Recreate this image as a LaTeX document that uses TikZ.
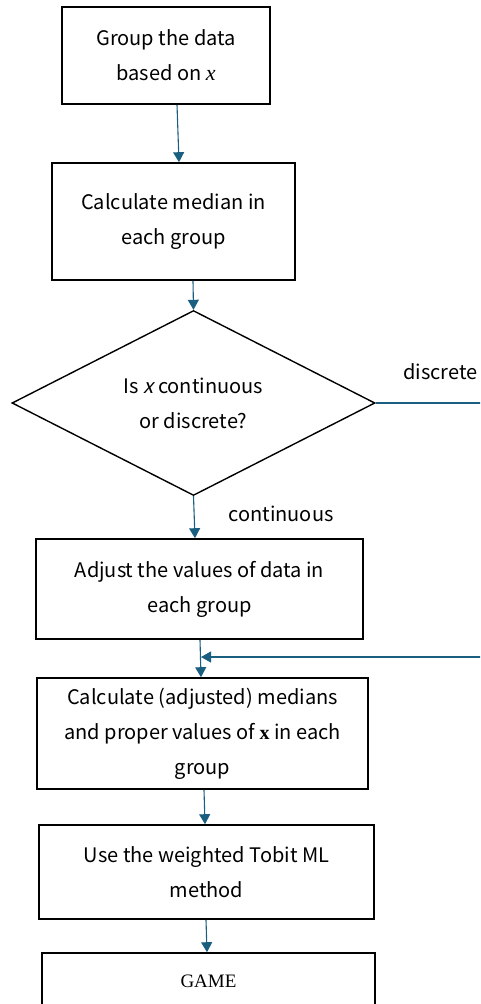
\documentclass[tikz,border=0pt]{standalone}
\usepackage{fontspec}
\setmainfont{Noto Sans CJK JP}
\newfontfamily\slantx[FakeSlant=0.25]{Noto Sans CJK JP}
\newfontfamily\gamefont{Liberation Serif}
\usetikzlibrary{shapes.geometric,arrows.meta}
\definecolor{flowblue}{HTML}{1A5E80}
\tikzset{
  box/.style={draw, line width=1.6pt, align=center, inner sep=0pt,
    font=\fontsize{20}{35}\selectfont},
  decision/.style={draw, diamond, aspect=2, line width=1.4pt, align=center,
    inner sep=0pt, font=\fontsize{20}{35}\selectfont},
  flow/.style={draw=flowblue, line width=1.1pt,
    -{Triangle[width=11pt,length=10pt]}, color=flowblue},
  tag/.style={font=\fontsize{20}{24}\selectfont}
}
\begin{document}
\begin{tikzpicture}[x=1pt,y=-1pt]
        \useasboundingbox (0,0) rectangle (480,1004);
        \clip (0,0) rectangle (480,1004);
        \node[box, minimum width=208, minimum height=97] (group) at (166,55.5)
          {Group the data\\based on {\gamefont\itshape\fontsize{22}{35}\selectfont x}};
        \node[box, minimum width=243, minimum height=117] (median) at (173.5,221.5)
          {Calculate median in\\each group};
        \node[decision, minimum width=363, minimum height=185] (kind) at (193.5,403)
          {Is {\slantx x} continuous\\or discrete?};
        \node[box, minimum width=327, minimum height=100] (adjust) at (199.5,589)
          {Adjust the values of data in\\each group};
        \node[box, minimum width=331, minimum height=111] (adjmed) at (202.5,733.5)
          {Calculate (adjusted) medians\\and proper values of {\gamefont\bfseries x} in each\\group};
        \node[box, minimum width=335, minimum height=94] (tobit) at (206.5,872)
          {Use the weighted Tobit ML\\method};
        \node[box, minimum width=333, minimum height=56] (game) at (208.5,981)
          {\gamefont\fontsize{19}{24}\selectfont GAME};
        \node[tag] (cont) at (281,514) {continuous};
        \node[tag, anchor=west, inner sep=1pt] (disc) at (402,372) {discrete};
        \coordinate (dturn) at (530,403);
        \coordinate (join) at (201,657);
        \draw[flow] ([xshift=11]group.south) -- ([xshift=5.5]median.north);
        \draw[flow] ([xshift=19.5]median.south) -- (kind.north);
        \draw[flow] (kind.south) -- ([xshift=-4.5]adjust.north);
        \draw[flow] ([xshift=0.5]adjust.south) -- ([xshift=-1.5]adjmed.north);
        \draw[flow] (kind.east) -- (dturn) |- (join);
        \draw[flow] ([xshift=1.5]adjmed.south) -- ([xshift=-1.5]tobit.north);
        \draw[flow] ([xshift=-0.5]tobit.south) -- ([xshift=-1.5]game.north);
      \end{tikzpicture}
\end{document}
